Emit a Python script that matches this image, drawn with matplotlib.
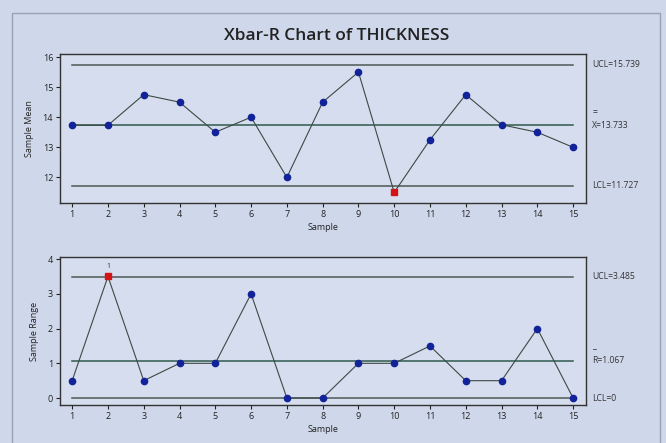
import matplotlib
matplotlib.use("Agg")
import matplotlib.pyplot as plt
from matplotlib.patches import Rectangle
import matplotlib.transforms as mtransforms

# Xbar-R chart data
samples = list(range(1, 16))
sample_means = [13.733, 13.733, 14.75, 14.5, 13.5, 14.0, 12.0, 14.5, 15.5,
                11.5, 13.25, 14.75, 13.75, 13.5, 13.0]
sample_ranges = [0.5, 3.5, 0.5, 1.0, 1.0, 3.0, 0.0, 0.0, 1.0, 1.0, 1.5,
                 0.5, 0.5, 2.0, 0.0]
xbar_limits = {"UCL": 15.739, "CL": 13.733, "LCL": 11.727}
r_limits = {"UCL": 3.485, "CL": 1.067, "LCL": 0.0}
xbar_out = [10]
r_out = [2]

plt.rcParams['font.family'] = ['Open Sans', 'DejaVu Sans']

fig_bg = '#cfd7ea'
ax_bg = '#d6ddee'
point_col = '#12239a'
link_col = '#3b4a45'
limit_col = '#4e5856'
center_col = '#2f5a4e'

fig = plt.figure(figsize=(6.66, 4.43), dpi=100)
fig.patch.set_facecolor(fig_bg)

# outer frame of the graph window
fig.patches.append(Rectangle((12 / 666, -0.05), 648 / 666, 1 - 13 / 443 + 0.05,
                             transform=fig.transFigure, fill=False,
                             edgecolor='#97a2b8', linewidth=1.0))

fig.text(0.505, 1 - 36 / 443, 'Xbar-R Chart of THICKNESS', ha='center',
         va='center', fontsize=12.5, color='#222222', fontweight='semibold')


def draw_panel(ax, values, limits, out_points, ylabel, ylim, yticks,
               labels, flag_label=False):
    ax.set_facecolor(ax_bg)
    ax.plot(samples, [limits["UCL"]] * len(samples), color=limit_col, lw=1.1)
    ax.plot(samples, [limits["LCL"]] * len(samples), color=limit_col, lw=1.1)
    ax.plot(samples, [limits["CL"]] * len(samples), color=center_col, lw=1.1)
    ax.plot(samples, values, color=link_col, lw=0.8, zorder=3)
    normal_x = [s for s in samples if s not in out_points]
    normal_y = [v for s, v in zip(samples, values) if s not in out_points]
    ax.plot(normal_x, normal_y, 'o', color=point_col, markersize=4.5, zorder=4)
    bad_x = [s for s in samples if s in out_points]
    bad_y = [v for s, v in zip(samples, values) if s in out_points]
    ax.plot(bad_x, bad_y, 's', color='#d41414', markersize=5, zorder=5)
    if flag_label:
        for x, y in zip(bad_x, bad_y):
            ax.annotate('1', (x, y), xytext=(0, 5), textcoords='offset points',
                        ha='center', va='bottom', fontsize=5, color='#333333')

    ax.set_xlim(0.66, 15.36)
    ax.set_ylim(*ylim)
    ax.set_xticks(samples)
    ax.set_yticks(yticks)
    ax.tick_params(axis='both', labelsize=6.5, length=3, width=0.8,
                   colors='#222222', pad=2)
    for sp in ax.spines.values():
        sp.set_color('#333333')
        sp.set_linewidth(1.0)
    ax.set_xlabel('Sample', fontsize=6.5, color='#222222', labelpad=3)
    ax.set_ylabel(ylabel, fontsize=6.5, color='#222222', labelpad=6)

    # limit labels to the right of the plot area
    trans = mtransforms.blended_transform_factory(ax.transAxes, ax.transData)
    for key, text in labels:
        ax.text(1.012, limits[key], text, transform=trans, ha='left',
                va='center', fontsize=6.2, color='#333333')
    return trans


ax1 = fig.add_axes([60 / 666, 1 - 203 / 443, 526 / 666, 149 / 443])
t1 = draw_panel(ax1, sample_means, xbar_limits, xbar_out, 'Sample Mean',
                (11.15, 16.1), [12, 13, 14, 15, 16],
                [("UCL", 'UCL=15.739'), ("CL", 'X=13.733'),
                 ("LCL", 'LCL=11.727')])

ax2 = fig.add_axes([60 / 666, 1 - 405 / 443, 526 / 666, 148 / 443])
t2 = draw_panel(ax2, sample_ranges, r_limits, r_out, 'Sample Range',
                (-0.2, 4.06), [0, 1, 2, 3, 4],
                [("UCL", 'UCL=3.485'), ("CL", 'R=1.067'), ("LCL", 'LCL=0')],
                flag_label=True)

# bars drawn over X and R labels
ax1.annotate('=', (1.012, xbar_limits["CL"]), xycoords=t1, xytext=(0, 9),
             textcoords='offset points', ha='left', va='center',
             fontsize=6.2, color='#333333', annotation_clip=False)
ax2.annotate('_', (1.012, r_limits["CL"]), xycoords=t2, xytext=(0, 11),
             textcoords='offset points', ha='left', va='center',
             fontsize=6.2, color='#333333', annotation_clip=False)

fig.savefig('out.png', dpi=100, facecolor=fig.get_facecolor())
